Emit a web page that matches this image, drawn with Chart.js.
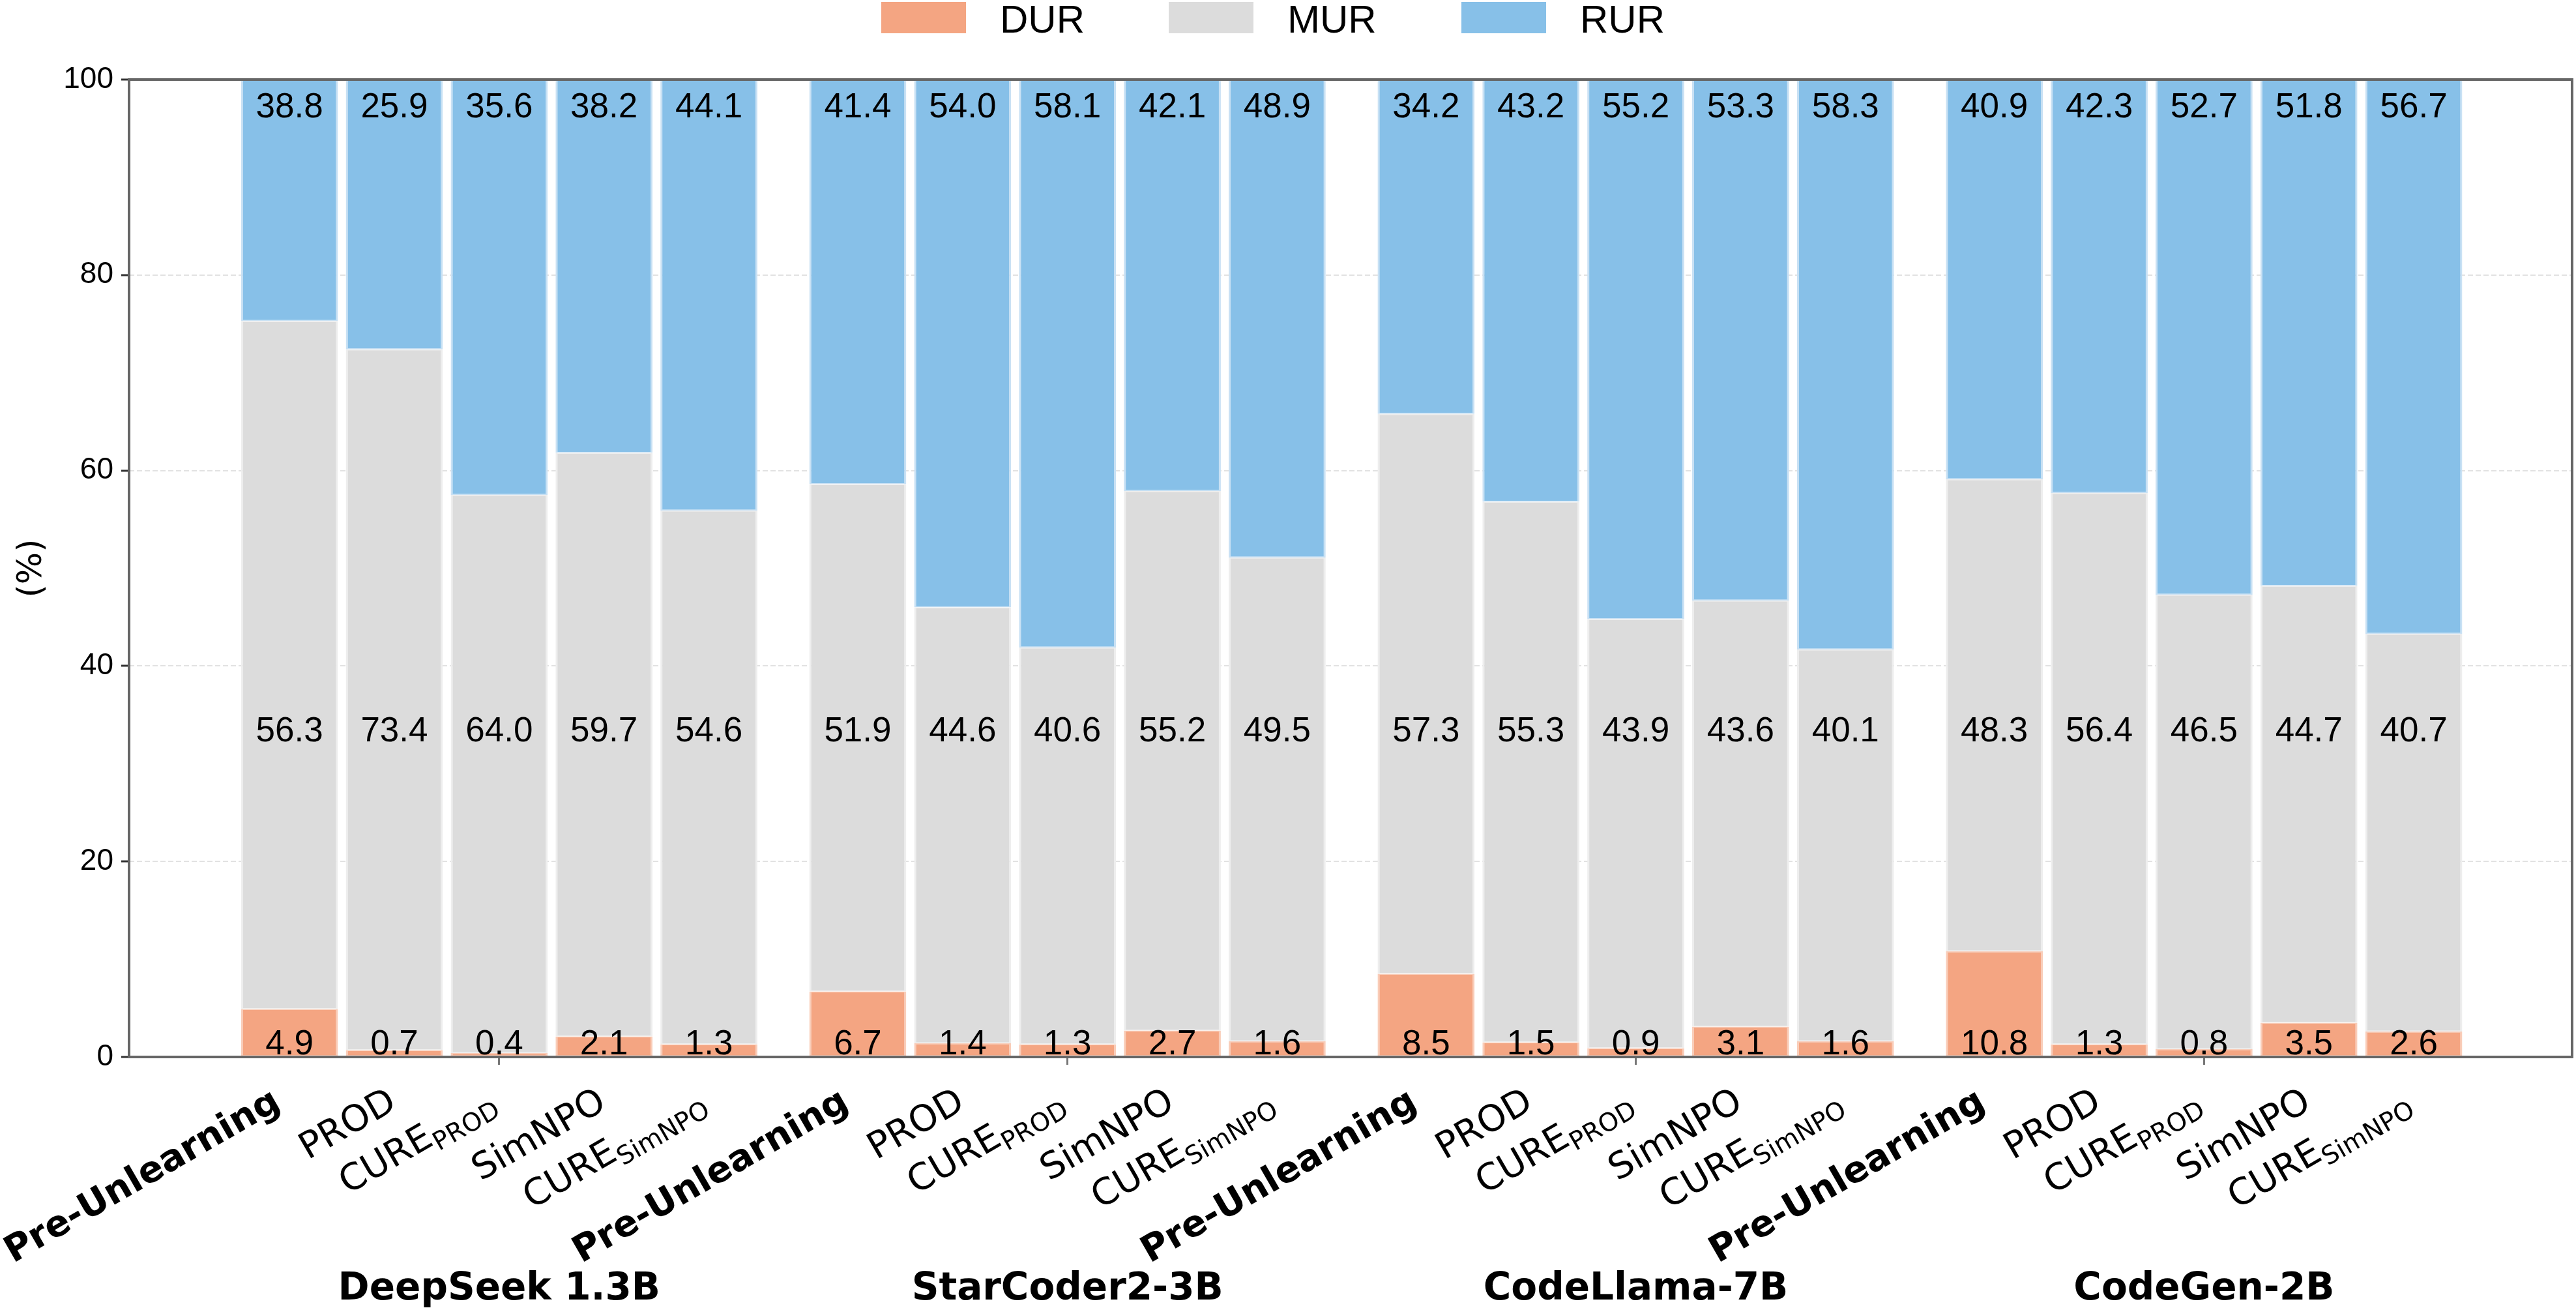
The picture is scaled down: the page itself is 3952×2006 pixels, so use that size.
<!DOCTYPE html>
<html>
<head>
<meta charset="utf-8">
<script src="https://cdn.jsdelivr.net/npm/chart.js@4"></script>
<style>
  html, body { margin: 0; padding: 0; background: #fff; overflow: hidden; }
  canvas { display: block; }
</style>
</head>
<body>
<canvas id="chart" width="3952" height="2006"></canvas>
<script>
// data
const models = ['DeepSeek 1.3B', 'StarCoder2-3B', 'CodeLlama-7B', 'CodeGen-2B'];
const methodNames = ['Pre-Unlearning', 'PROD', 'CURE', 'SimNPO', 'CURE'];
const methodSubs = ['', '', 'PROD', '', 'SimNPO'];
const seriesNames = ['DUR', 'MUR', 'RUR'];
const seriesColors = ['#F4A582', '#DCDCDC', '#87C0E8'];
const seriesEdges = ['#F9CDB9', '#EEEEEE', '#C9E1F4'];

// printed values
const durValues = [4.9, 0.7, 0.4, 2.1, 1.3,  6.7, 1.4, 1.3, 2.7, 1.6,  8.5, 1.5, 0.9, 3.1, 1.6,  10.8, 1.3, 0.8, 3.5, 2.6];
const murValues = [56.3, 73.4, 64.0, 59.7, 54.6,  51.9, 44.6, 40.6, 55.2, 49.5,  57.3, 55.3, 43.9, 43.6, 40.1,  48.3, 56.4, 46.5, 44.7, 40.7];
const rurValues = [38.8, 25.9, 35.6, 38.2, 44.1,  41.4, 54.0, 58.1, 42.1, 48.9,  34.2, 43.2, 55.2, 53.3, 58.3,  40.9, 42.3, 52.7, 51.8, 56.7];
// segment heights as drawn (the first DeepSeek bars do not follow their printed numbers)
const murBars = [70.4, 71.7, 57.1, 59.7, 54.6,  51.9, 44.6, 40.6, 55.2, 49.5,  57.3, 55.3, 43.9, 43.6, 40.1,  48.3, 56.4, 46.5, 44.7, 40.7];
const rurBars = [24.7, 27.6, 42.5, 38.2, 44.1,  41.4, 54.0, 58.1, 42.1, 48.9,  34.2, 43.2, 55.2, 53.3, 58.3,  40.9, 42.3, 52.7, 51.8, 56.7];
const yTicks = [0, 20, 40, 60, 80, 100];

// layout: bars sit one unit apart, groups are a bit wider apart
const GROUP_STEP = 5.42;
const xPos = k => Math.floor(k / 5) * GROUP_STEP + (k % 5);
const groupCenters = models.map((m, g) => g * GROUP_STEP + 2);

const FONT_ARIAL = '"Liberation Sans", Arial, sans-serif';
const FONT_DEJAVU = '"DejaVu Sans", sans-serif';

const decor = {
    id: 'decor',
    afterDatasetsDraw(chart) {
        const { ctx, chartArea: a, scales: { x, y } } = chart;
        const bars = chart.getDatasetMeta(0).data;
        ctx.save();

        // frame
        ctx.strokeStyle = '#666';
        ctx.lineWidth = 4;
        ctx.strokeRect(a.left, a.top, a.right - a.left, a.bottom - a.top);

        // value labels
        ctx.fillStyle = '#000';
        ctx.font = '53px ' + FONT_ARIAL;
        ctx.textAlign = 'center';
        ctx.textBaseline = 'alphabetic';
        [[durValues, 0.27], [murValues, 32.3], [rurValues, 96.1]].forEach(([vals, yv]) => {
            vals.forEach((v, k) => ctx.fillText(v.toFixed(1), bars[k].x, y.getPixelForValue(yv)));
        });

        // rotated method labels
        const f = 56, asc = 0.93 * f;
        bars.forEach((bar, k) => {
            const i = k % 5;
            const main = methodNames[i], sub = methodSubs[i];
            const mainFont = (i === 0 ? 'bold ' : '') + f + 'px ' + FONT_DEJAVU;
            const subFont = Math.round(f * 0.7) + 'px ' + FONT_DEJAVU;
            ctx.font = subFont;
            const subW = sub ? ctx.measureText(sub).width : 0;
            const off = i === 0 ? 37 : (sub ? 28 : 20);
            ctx.save();
            ctx.translate(bar.x - off, a.bottom + 33);
            ctx.rotate(-Math.PI / 6);
            ctx.textAlign = 'right';
            ctx.font = mainFont;
            ctx.fillText(main, -subW, asc);
            if (sub) {
                ctx.font = subFont;
                ctx.fillText(sub, 0, asc + 0.22 * f);
            }
            ctx.restore();
        });

        // model names
        ctx.font = 'bold 58px ' + FONT_DEJAVU;
        ctx.textAlign = 'center';
        models.forEach((m, g) => ctx.fillText(m, x.getPixelForValue(groupCenters[g]), 1993));

        // y title
        ctx.save();
        ctx.translate(49, (a.top + a.bottom) / 2);
        ctx.rotate(-Math.PI / 2);
        ctx.font = '52px ' + FONT_DEJAVU;
        ctx.textBaseline = 'middle';
        ctx.fillText('(%)', 0, 0);
        ctx.restore();

        // legend
        const legendX = [1352, 1793, 2242];
        ctx.textAlign = 'left';
        ctx.font = '60px ' + FONT_ARIAL;
        seriesNames.forEach((s, i) => {
            ctx.fillStyle = seriesColors[i];
            ctx.fillRect(legendX[i], 3, 130, 48);
            ctx.fillStyle = '#000';
            ctx.fillText(s, legendX[i] + 182, 50);
        });

        ctx.restore();
    }
};

const barSeries = [durValues, murBars, rurBars];

new Chart(document.getElementById('chart').getContext('2d'), {
    type: 'bar',
    data: {
        datasets: barSeries.map((vals, s) => ({
            label: seriesNames[s],
            data: vals.map((v, k) => ({ x: xPos(k), y: v })),
            backgroundColor: seriesColors[s],
            borderColor: seriesEdges[s]
        }))
    },
    options: {
        responsive: false,
        animation: false,
        devicePixelRatio: 1,
        layout: { padding: { top: 122, right: 6, left: 0, bottom: 0 } },
        datasets: {
            bar: {
                barPercentage: 0.925,
                categoryPercentage: 1,
                borderWidth: { top: 1.5, bottom: 1.5, left: 3, right: 3 },
                borderSkipped: false
            }
        },
        plugins: { legend: { display: false }, tooltip: { enabled: false } },
        scales: {
            x: {
                type: 'linear',
                stacked: true,
                offset: false,
                bounds: 'data',
                min: -1.53,
                max: 4 + 3 * GROUP_STEP + 1.51,
                afterBuildTicks: s => { s.ticks = groupCenters.map(v => ({ value: v })); },
                afterFit: s => { s.height = 385; },
                ticks: { display: false },
                grid: { offset: false, drawOnChartArea: false, drawTicks: true, tickLength: 12, tickWidth: 3, tickColor: '#777' },
                border: { display: false }
            },
            y: {
                stacked: true,
                min: 0,
                max: 100,
                afterBuildTicks: s => { s.ticks = yTicks.map(v => ({ value: v })); },
                afterFit: s => { s.width = 198; },
                ticks: { color: '#000', padding: 12, font: { family: FONT_ARIAL, size: 46 } },
                grid: { color: '#e2e2e2', lineWidth: 2, tickLength: 12, tickWidth: 3, tickColor: '#333' },
                border: { display: false, dash: [8, 4] }
            }
        }
    },
    plugins: [decor]
});
</script>
</body>
</html>
